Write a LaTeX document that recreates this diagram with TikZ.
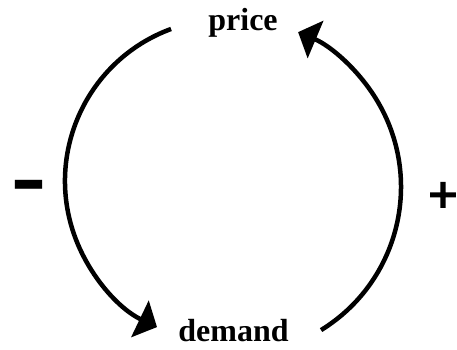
\documentclass[tikz,border=0pt]{standalone}
\usepackage{fontspec}
\setmainfont{Liberation Serif}
\newfontfamily\signfont[FakeBold=3]{Liberation Sans}
\usetikzlibrary{arrows.meta}

\begin{document}
\begin{tikzpicture}[x=1pt,y=1pt,
  looparc/.style={line width=4.5pt,-{Triangle[length=19pt,width=40pt]}},
  word/.style={font=\bfseries\fontsize{32}{32}\selectfont,inner sep=0pt},
  sign/.style={inner sep=0pt}]

\useasboundingbox (0,0) rectangle (457,349);

% Variables
\node[word,anchor=base] (price) at (243,319) {price};
\node[word,anchor=base] (demand) at (233.5,8) {demand};

% Loop signs
\node[sign,font=\bfseries\fontsize{105}{105}\selectfont] (minus) at (29,154) {-};
\node[sign,font=\signfont\fontsize{50}{50}\selectfont] (plus) at (443,152) {+};

% Left arc: price to demand
\coordinate (cl) at (227,168);
\draw[looparc] ([shift={(110.2:162)}]cl) arc[start angle=110.2,end angle=244.4,radius=162];

% Right arc: demand to price
\coordinate (cr) at (233,162);
\draw[looparc] ([shift={(-58.4:168)}]cr) arc[start angle=-58.4,end angle=67.2,radius=168];

\end{tikzpicture}
\end{document}
